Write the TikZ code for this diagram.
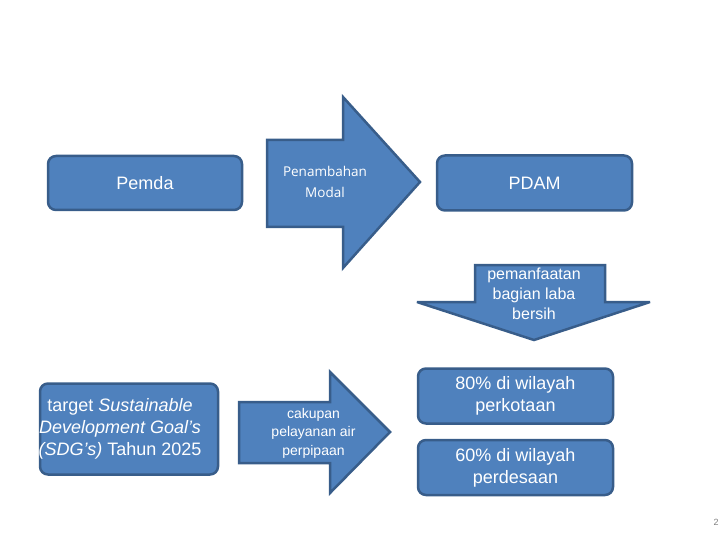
\documentclass[tikz,border=0pt]{standalone}
\usepackage{fontspec}
\setmainfont{Liberation Sans}
\newfontfamily\modalfont{Open Sans}
\definecolor{boxblue}{RGB}{79,129,189}
\definecolor{boxedge}{RGB}{56,93,138}

\begin{document}
\begin{tikzpicture}[x=1pt,y=-1pt,
    box/.style={draw=boxedge, fill=boxblue, line width=2.5pt, rounded corners=8pt, text=white, font=\fontsize{18}{22}\selectfont, align=center, inner sep=0pt},
    arrowshape/.style={draw=boxedge, fill=boxblue, line width=2.5pt, line join=miter, miter limit=3},
    arrowtext/.style={text=white, align=center, inner sep=0pt}]
    \useasboundingbox (0,0) rectangle (720,540);

    % top row
    \node[box, minimum width=194pt, minimum height=54pt] (pemda) at (145,183) {Pemda};
    \draw[arrowshape](267,140)--(343,140)--(343,97)--(420,182)--(343,268)--(343,227)--(267,227)--cycle;
    \node[arrowtext, font=\modalfont\fontsize{13.5}{21}\selectfont] (modal) at (325,182) {Penambahan\\Modal};
    \node[box, minimum width=195pt, minimum height=55pt] (pdam) at (534.5,183) {PDAM};

    % down arrow
    \draw[arrowshape](475,265)--(605,265)--(605,302)--(650,302)--(534,340)--(417,302)--(475,302)--cycle;
    \node[arrowtext, font=\fontsize{16}{20}\selectfont] (laba) at (534,294) {pemanfaatan\\bagian laba\\bersih};

    % bottom row
    \node[box, minimum width=178pt, minimum height=91pt] (target) at (129,429) {};
    \node[arrowtext, font=\fontsize{18}{22}\selectfont] (targettext) at ([xshift=-9pt]target.center) {target \textit{Sustainable}\\\textit{Development Goal's}\\\textit{(SDG's)} Tahun 2025};
    \draw[arrowshape](239,402)--(330,402)--(330,372)--(390,432)--(330,493)--(330,463)--(239,463)--cycle;
    \node[arrowtext, font=\fontsize{14}{18.5}\selectfont] (cakupan) at (313.5,433) {cakupan\\pelayanan air\\perpipaan};
    \node[box, minimum width=195pt, minimum height=55pt] (kota) at (515.5,396) {80\% di wilayah\\perkotaan};
    \node[box, minimum width=195pt, minimum height=55pt] (desa) at (515.5,467.5) {60\% di wilayah\\perdesaan};

    \node[text=gray, font=\fontsize{9}{10}\selectfont, inner sep=0pt] (pagenum) at (716,522) {2};
\end{tikzpicture}
\end{document}
